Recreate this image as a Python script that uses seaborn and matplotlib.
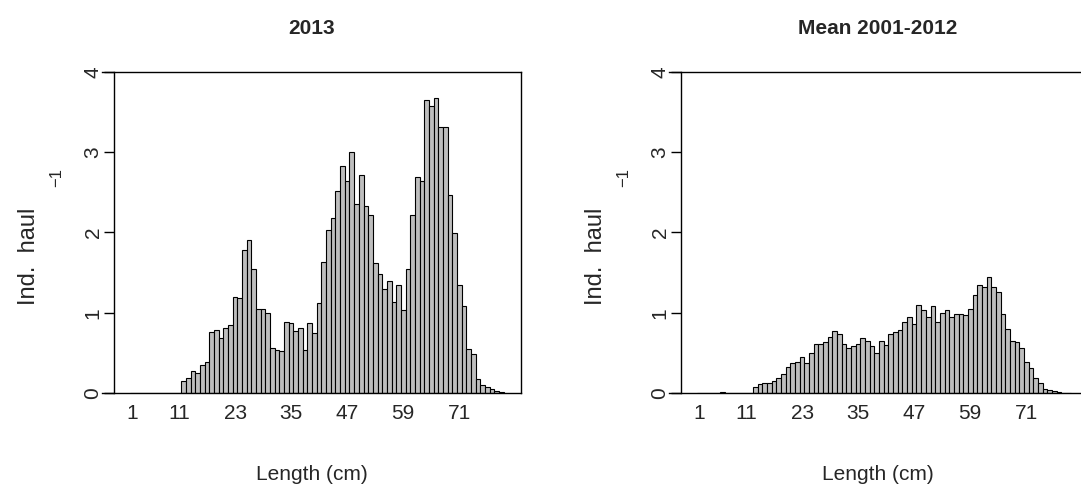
import matplotlib
matplotlib.use("Agg")
import matplotlib.pyplot as plt
import numpy as np
import pandas as pd
import seaborn as sns

# ---------------- data ----------------
lengths = list(range(1, 81))

vals_2013 = [0, 0, 0, 0, 0, 0, 0, 0, 0, 0,
             0, 0.15, 0.19, 0.27, 0.25, 0.35, 0.39, 0.76, 0.78, 0.68,
             0.81, 0.85, 1.20, 1.19, 1.78, 1.91, 1.54, 1.05, 1.05, 1.00,
             0.56, 0.53, 0.52, 0.88, 0.87, 0.77, 0.81, 0.54, 0.87, 0.75,
             1.12, 1.63, 2.03, 2.18, 2.52, 2.83, 2.64, 3.00, 2.36, 2.72,
             2.33, 2.22, 1.62, 1.48, 1.29, 1.40, 1.13, 1.34, 1.04, 1.55,
             2.22, 2.69, 2.64, 3.65, 3.58, 3.67, 3.31, 3.31, 2.47, 1.99,
             1.34, 1.09, 0.55, 0.48, 0.18, 0.10, 0.08, 0.05, 0.025, 0.01]

vals_mean = [0, 0, 0, 0, 0, 0.01, 0, 0, 0, 0.005,
             0.005, 0.005, 0.07, 0.11, 0.12, 0.12, 0.15, 0.19, 0.24, 0.33,
             0.37, 0.39, 0.45, 0.37, 0.50, 0.61, 0.61, 0.64, 0.70, 0.77,
             0.73, 0.61, 0.56, 0.59, 0.61, 0.68, 0.65, 0.58, 0.50, 0.65,
             0.60, 0.73, 0.76, 0.78, 0.88, 0.95, 0.86, 1.10, 1.04, 0.95,
             1.08, 0.88, 1.00, 1.04, 0.95, 0.99, 0.99, 0.97, 1.05, 1.22,
             1.35, 1.32, 1.45, 1.32, 1.26, 0.99, 0.80, 0.65, 0.63, 0.56,
             0.39, 0.31, 0.19, 0.12, 0.05, 0.04, 0.02, 0.015, 0.005, 0.005]

tick_labels = ["1", "11", "23", "35", "47", "59", "71"]
y_ticks = [0, 1, 2, 3, 4]
titles = ["2013", "Mean 2001-2012"]
x_label = "Length (cm)"
y_label = "Ind.  haul"
y_label_sup = "\u22121"

# ---------------- style ----------------
sns.set_style("white")
plt.rcParams['font.family'] = ['Liberation Sans', 'DejaVu Sans']

W, H = 1081, 503
fig = plt.figure(figsize=(W / 100, H / 100), dpi=100)

panels = [(102, 521), (669, 1087)]
top_px, bot_px = 72, 393
pitch = 4.67          # pixels per bar
bar_start = 28        # px from plot-region left to first bar

for (x0, x1), vals, title in zip(panels, [vals_2013, vals_mean], titles):
    pw = x1 - x0
    ph = bot_px - top_px
    ax = fig.add_axes([x0 / W, 1 - bot_px / H, pw / W, ph / H])
    df = pd.DataFrame({"length": lengths, "value": vals})
    sns.barplot(data=df, x="length", y="value", ax=ax, color="#BEBEBE",
                saturation=1, width=1, edgecolor="black", linewidth=0.8,
                errorbar=None)
    left = -0.5 - bar_start / pitch
    ax.set_xlim(left, left + pw / pitch)
    ax.set_ylim(0, 4)

    pos = [lengths.index(int(t)) for t in tick_labels]
    ax.set_xticks(pos)
    ax.set_xticklabels(tick_labels)
    ax.set_yticks(y_ticks)
    ax.set_yticklabels([str(v) for v in y_ticks])

    for s in ["top", "bottom", "right", "left"]:
        ax.spines[s].set_visible(True)
        ax.spines[s].set_color("black")
        ax.spines[s].set_linewidth(1.0)
    ax.spines["left"].set_position(("axes", 12 / pw))

    ax.tick_params(axis="x", length=0, pad=8, labelsize=15)
    ax.tick_params(axis="y", length=7.2, width=1.0, pad=1, labelsize=15,
                   left=True, color="black", labelrotation=90)
    for lab in ax.get_yticklabels():
        lab.set_va("center")

    ax.set_xlabel(x_label, fontsize=15, labelpad=30)
    ax.set_ylabel(y_label, fontsize=17)
    ax.yaxis.set_label_coords((40 - 102) / 419, (393 - 256) / ph)
    ax.text((57 - 102) / 419, (393 - 178) / ph, y_label_sup, transform=ax.transAxes,
            rotation=90, fontsize=12, ha="center", va="center")
    ax.set_title(title, fontsize=15, fontweight="bold", pad=27)

fig.savefig("out.png", dpi=100)
